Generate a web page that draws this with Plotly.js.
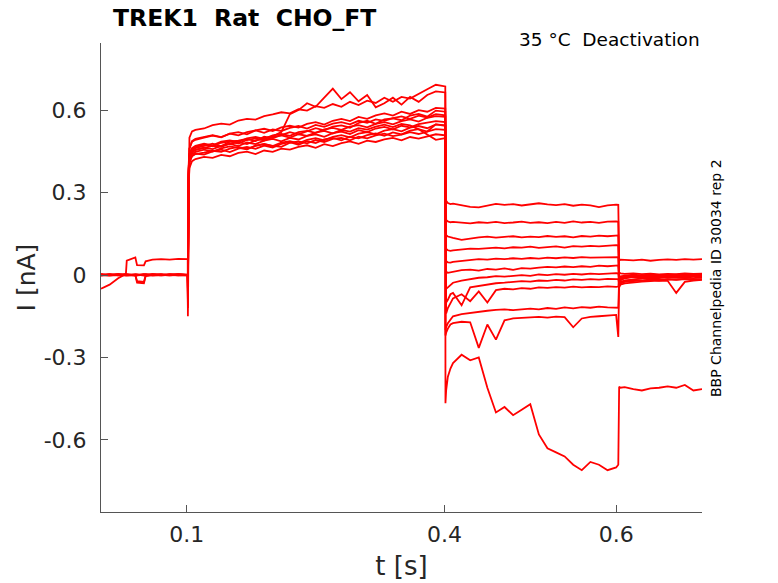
<!DOCTYPE html>
<html>
<head>
<meta charset="utf-8">
<script src="https://cdn.plot.ly/plotly-3.0.1.min.js"></script>
<style>body{margin:0;background:#fff}</style>
</head>
<body>
<div id="chart" style="width:778px;height:583px"></div>
<script>
// sample times of each protocol phase (s)
const tPre = [0, 0.01, 0.02, 0.029, 0.03, 0.04, 0.042, 0.05, 0.052, 0.06, 0.07, 0.08, 0.09, 0.101];
const tAct = [0.1012, 0.102, 0.103, 0.106, 0.11, 0.12, 0.13, 0.14, 0.15, 0.16, 0.17, 0.18, 0.19, 0.2, 0.21, 0.22, 0.23, 0.24, 0.25, 0.26, 0.27, 0.28, 0.29, 0.3, 0.31, 0.32, 0.33, 0.34, 0.35, 0.36, 0.37, 0.38, 0.39, 0.401];
const tDeact = [0.4012, 0.402, 0.404, 0.407, 0.41, 0.42, 0.43, 0.44, 0.45, 0.46, 0.47, 0.48, 0.49, 0.5, 0.51, 0.52, 0.53, 0.54, 0.55, 0.56, 0.57, 0.58, 0.59, 0.6, 0.6025];
const tPost = [0.6035, 0.605, 0.61, 0.62, 0.63, 0.64, 0.65, 0.66, 0.67, 0.68, 0.69, 0.7];

// current (nA) of each sweep, phase by phase
const preA = [-0.05, -0.035, -0.012, 0.004, 0.052, 0.064, 0.036, 0.035, 0.05, 0.056, 0.058, 0.056, 0.059, 0.058];
const actA = [-0.15, 0.40, 0.50, 0.522, 0.528, 0.533, 0.545, 0.551, 0.547, 0.562, 0.568, 0.565, 0.578, 0.584, 0.592, 0.588, 0.603, 0.598, 0.614, 0.608, 0.622, 0.612, 0.63, 0.618, 0.634, 0.626, 0.645, 0.63, 0.648, 0.642, 0.66, 0.676, 0.692, 0.686];
const deactA = [0.30, 0.27, 0.262, 0.258, 0.26, 0.253, 0.248, 0.246, 0.252, 0.259, 0.255, 0.258, 0.253, 0.257, 0.261, 0.257, 0.254, 0.258, 0.252, 0.256, 0.253, 0.247, 0.253, 0.256, 0.255];
const postA = [0.052, 0.056, 0.055, 0.053, 0.056, 0.052, 0.055, 0.057, 0.055, 0.058, 0.056, 0.058];

const preB = [0.002, 0.0, 0.003, 0.001, 0.002, 0.0, -0.028, -0.03, -0.004, 0.001, 0.003, 0.0, 0.002, 0.001];
const actB = [-0.1, 0.36, 0.42, 0.448, 0.455, 0.462, 0.47, 0.466, 0.478, 0.483, 0.476, 0.49, 0.495, 0.505, 0.52, 0.585, 0.6, 0.625, 0.612, 0.645, 0.678, 0.64, 0.665, 0.632, 0.655, 0.61, 0.625, 0.645, 0.62, 0.648, 0.63, 0.655, 0.668, 0.664];
const deactB = [0.22, 0.2, 0.195, 0.192, 0.193, 0.19, 0.188, 0.192, 0.19, 0.193, 0.189, 0.191, 0.194, 0.19, 0.192, 0.189, 0.193, 0.19, 0.195, 0.191, 0.193, 0.19, 0.194, 0.195, 0.194];
const postB = [0.01, 0.006, 0.004, 0.006, 0.003, 0.005, 0.002, 0.004, 0.003, 0.006, 0.004, 0.005];

const preC = [0.0, 0.003, -0.001, 0.002, 0.0, 0.002, 0.001, -0.002, 0.001, 0.003, 0.0, 0.002, -0.001, 0.0];
const actC = [-0.06, 0.38, 0.44, 0.462, 0.47, 0.478, 0.472, 0.485, 0.49, 0.484, 0.497, 0.502, 0.495, 0.508, 0.513, 0.506, 0.52, 0.524, 0.517, 0.53, 0.535, 0.528, 0.54, 0.545, 0.537, 0.55, 0.556, 0.548, 0.56, 0.566, 0.558, 0.572, 0.578, 0.575];
const deactC = [0.16, 0.145, 0.14, 0.137, 0.135, 0.128, 0.133, 0.137, 0.14, 0.136, 0.139, 0.141, 0.137, 0.14, 0.138, 0.142, 0.139, 0.141, 0.137, 0.142, 0.14, 0.143, 0.141, 0.145, 0.144];
const postC = [-0.01, -0.005, -0.002, 0.001, -0.001, 0.002, 0.0, -0.002, 0.001, 0.0, 0.002, 0.001];

const preD = [-0.002, 0.001, 0.002, -0.001, 0.001, 0.0, -0.022, -0.025, 0.0, 0.002, -0.001, 0.001, 0.003, 0.001];
const actD = [-0.08, 0.35, 0.41, 0.432, 0.44, 0.445, 0.452, 0.448, 0.46, 0.466, 0.458, 0.47, 0.476, 0.469, 0.482, 0.487, 0.479, 0.492, 0.498, 0.49, 0.503, 0.509, 0.501, 0.514, 0.52, 0.512, 0.525, 0.531, 0.523, 0.536, 0.542, 0.534, 0.548, 0.545];
const deactD = [0.11, 0.095, 0.09, 0.088, 0.09, 0.093, 0.096, 0.095, 0.098, 0.1, 0.097, 0.101, 0.1, 0.103, 0.099, 0.102, 0.104, 0.1, 0.105, 0.103, 0.106, 0.104, 0.107, 0.109, 0.108];
const postD = [-0.03, -0.02, -0.012, -0.008, -0.01, -0.006, -0.008, -0.005, -0.007, -0.004, -0.006, -0.005];

const preE = [0.001, -0.002, 0.0, 0.002, -0.001, 0.001, 0.0, 0.002, -0.002, 0.0, 0.001, -0.001, 0.002, 0.0];
const actE = [-0.05, 0.37, 0.43, 0.452, 0.462, 0.47, 0.478, 0.468, 0.485, 0.489, 0.495, 0.487, 0.503, 0.498, 0.51, 0.52, 0.512, 0.524, 0.534, 0.526, 0.54, 0.544, 0.536, 0.553, 0.561, 0.55, 0.566, 0.57, 0.563, 0.58, 0.586, 0.576, 0.598, 0.594];
const deactE = [0.07, 0.05, 0.046, 0.045, 0.048, 0.052, 0.055, 0.058, 0.056, 0.06, 0.058, 0.061, 0.059, 0.062, 0.06, 0.063, 0.061, 0.064, 0.062, 0.065, 0.063, 0.064, 0.066, 0.066, 0.065];
const postE = [-0.04, -0.03, -0.02, -0.015, -0.012, -0.01, -0.011, -0.008, -0.01, -0.009, -0.011, -0.008];

const preF = [0.002, 0.0, 0.001, -0.002, 0.0, 0.002, 0.001, 0.0, 0.002, -0.001, 0.0, 0.002, 0.0, 0.001];
const actF = [-0.04, 0.36, 0.42, 0.44, 0.448, 0.456, 0.449, 0.461, 0.468, 0.462, 0.457, 0.471, 0.477, 0.47, 0.466, 0.481, 0.486, 0.479, 0.491, 0.484, 0.495, 0.499, 0.49, 0.503, 0.497, 0.508, 0.514, 0.505, 0.511, 0.52, 0.513, 0.522, 0.531, 0.528];
const deactF = [0.03, 0.012, 0.008, 0.01, 0.012, 0.018, 0.02, 0.016, 0.022, 0.02, 0.024, 0.019, 0.025, 0.023, 0.027, 0.03, 0.028, 0.031, 0.029, 0.032, 0.03, 0.034, 0.032, 0.036, 0.035];
const postF = [-0.02, -0.015, -0.01, -0.005, -0.008, -0.004, -0.006, -0.003, -0.005, -0.002, -0.004, -0.003];

const preG = [-0.001, 0.002, 0.0, 0.001, 0.003, 0.0, -0.001, 0.001, 0.0, 0.002, 0.001, -0.001, 0.001, 0.002];
const actG = [-0.07, 0.39, 0.46, 0.487, 0.495, 0.501, 0.509, 0.502, 0.514, 0.508, 0.52, 0.526, 0.517, 0.53, 0.524, 0.535, 0.542, 0.533, 0.546, 0.539, 0.551, 0.556, 0.548, 0.561, 0.554, 0.566, 0.561, 0.571, 0.577, 0.568, 0.58, 0.573, 0.585, 0.581];
const deactG = [-0.03, -0.05, -0.045, -0.035, -0.028, -0.02, -0.015, -0.01, -0.008, -0.004, -0.006, -0.002, 0.0, -0.003, 0.002, 0.0, 0.003, 0.001, 0.004, 0.002, 0.005, 0.003, 0.006, 0.007, 0.006];
const postG = [-0.035, -0.03, -0.025, -0.022, -0.02, -0.018, -0.02, -0.016, -0.018, -0.015, -0.017, -0.016];

const preH = [0.0, 0.001, -0.001, 0.002, 0.0, -0.002, 0.0, 0.001, 0.002, 0.0, -0.001, 0.001, 0.0, -0.001];
const actH = [-0.12, 0.33, 0.39, 0.414, 0.422, 0.43, 0.426, 0.437, 0.432, 0.444, 0.449, 0.44, 0.453, 0.448, 0.46, 0.456, 0.466, 0.472, 0.463, 0.476, 0.469, 0.48, 0.486, 0.477, 0.489, 0.484, 0.493, 0.499, 0.49, 0.502, 0.496, 0.505, 0.512, 0.508];
const deactH = [-0.08, -0.1, -0.09, -0.07, -0.065, -0.11, -0.045, -0.04, -0.035, -0.03, -0.028, -0.025, -0.022, -0.024, -0.02, -0.021, -0.018, -0.02, -0.016, -0.018, -0.015, -0.017, -0.014, -0.015, -0.015];
const postH = [-0.045, -0.035, -0.03, -0.026, -0.024, -0.022, -0.02, -0.021, -0.065, -0.025, -0.02, -0.018];

const preI = [0.001, 0.0, 0.002, 0.0, -0.001, 0.001, 0.002, 0.0, -0.001, 0.001, 0.002, 0.0, 0.001, 0.0];
const actI = [-0.09, 0.37, 0.43, 0.447, 0.455, 0.463, 0.458, 0.47, 0.477, 0.469, 0.482, 0.476, 0.489, 0.495, 0.486, 0.499, 0.493, 0.506, 0.512, 0.503, 0.516, 0.522, 0.513, 0.527, 0.52, 0.533, 0.539, 0.53, 0.543, 0.537, 0.549, 0.555, 0.56, 0.556];
const deactI = [-0.2, -0.19, -0.175, -0.16, -0.15, -0.142, -0.138, -0.132, -0.13, -0.127, -0.125, -0.128, -0.124, -0.122, -0.125, -0.12, -0.123, -0.118, -0.121, -0.117, -0.119, -0.115, -0.118, -0.12, -0.119];
const postI = [-0.015, -0.01, -0.006, -0.002, -0.004, 0.0, -0.002, 0.001, -0.001, 0.002, 0.0, 0.001];

const preJ = [0.002, 0.001, 0.0, 0.002, 0.001, 0.0, -0.001, 0.002, 0.0, 0.001, 0.0, 0.002, 0.001, 0.0];
const actJ = [-0.05, 0.38, 0.44, 0.458, 0.466, 0.474, 0.468, 0.481, 0.486, 0.478, 0.491, 0.497, 0.489, 0.502, 0.508, 0.5, 0.512, 0.506, 0.518, 0.524, 0.515, 0.528, 0.522, 0.534, 0.529, 0.54, 0.547, 0.538, 0.55, 0.544, 0.53, 0.51, 0.492, 0.498];
const deactJ = [-0.22, -0.21, -0.195, -0.18, -0.175, -0.17, -0.172, -0.265, -0.18, -0.235, -0.165, -0.158, -0.156, -0.154, -0.152, -0.155, -0.151, -0.153, -0.19, -0.158, -0.152, -0.15, -0.148, -0.145, -0.225];
const postJ = [-0.03, -0.025, -0.02, -0.018, -0.02, -0.016, -0.018, -0.015, -0.017, -0.014, -0.016, -0.015];

const preK = [0.0, 0.002, 0.001, -0.001, 0.0, 0.001, 0.0, 0.002, 0.001, -0.001, 0.0, 0.001, 0.002, 0.0];
const actK = [-0.11, 0.34, 0.41, 0.434, 0.442, 0.438, 0.45, 0.456, 0.447, 0.46, 0.466, 0.459, 0.471, 0.464, 0.477, 0.483, 0.474, 0.487, 0.48, 0.493, 0.499, 0.49, 0.503, 0.497, 0.509, 0.515, 0.506, 0.519, 0.512, 0.525, 0.531, 0.522, 0.548, 0.543];
const deactK = [-0.466, -0.42, -0.37, -0.34, -0.32, -0.29, -0.31, -0.30, -0.41, -0.50, -0.48, -0.51, -0.49, -0.47, -0.58, -0.63, -0.645, -0.66, -0.69, -0.71, -0.68, -0.69, -0.71, -0.70, -0.69];
const postK = [-0.406, -0.41, -0.408, -0.415, -0.42, -0.412, -0.41, -0.405, -0.41, -0.4, -0.42, -0.415];

const preL = [0.001, -0.001, 0.002, 0.0, 0.001, -0.001, 0.0, 0.001, 0.002, 0.0, 0.001, 0.0, -0.001, 0.001];
const actL = [-0.03, 0.39, 0.46, 0.485, 0.492, 0.5, 0.507, 0.501, 0.514, 0.52, 0.512, 0.526, 0.532, 0.524, 0.537, 0.543, 0.536, 0.55, 0.556, 0.547, 0.561, 0.568, 0.56, 0.575, 0.568, 0.581, 0.588, 0.58, 0.594, 0.586, 0.6, 0.594, 0.608, 0.605];
const deactL = [-0.12, -0.14, -0.12, -0.1, -0.085, -0.07, -0.095, -0.06, -0.1, -0.055, -0.05, -0.052, -0.048, -0.05, -0.045, -0.047, -0.044, -0.046, -0.042, -0.045, -0.043, -0.044, -0.041, -0.043, -0.042];
const postL = [-0.02, -0.012, -0.008, -0.004, -0.006, -0.003, -0.005, -0.002, -0.004, -0.001, -0.003, -0.002];

const sweeps = [
    [preA, actA, deactA, postA], [preB, actB, deactB, postB], [preC, actC, deactC, postC],
    [preD, actD, deactD, postD], [preE, actE, deactE, postE], [preF, actF, deactF, postF],
    [preG, actG, deactG, postG], [preH, actH, deactH, postH], [preI, actI, deactI, postI],
    [preJ, actJ, deactJ, postJ], [preK, actK, deactK, postK], [preL, actL, deactL, postL]
];

const tAll = [...tPre, ...tAct, ...tDeact, ...tPost];
const data = sweeps.map(s => ({
    type: 'scatter',
    mode: 'lines',
    x: tAll,
    y: [...s[0], ...s[1], ...s[2], ...s[3]],
    line: { color: '#ff0000', width: 1.8 },
    hoverinfo: 'skip',
    showlegend: false
}));

const axisFont = { family: 'DejaVu Sans', size: 22, color: '#262626' };
const nb = '\u00A0';

const layout = {
    width: 778,
    height: 583,
    margin: { l: 101, r: 76, t: 43, b: 71 },
    paper_bgcolor: '#ffffff',
    plot_bgcolor: '#ffffff',
    showlegend: false,
    title: {
        text: '<b>TREK1' + nb + nb + 'Rat' + nb + nb + 'CHO_FT</b>',
        font: { family: 'DejaVu Sans', size: 23.5, color: '#000000' },
        x: 113 / 778, xanchor: 'left', xref: 'container',
        y: 1 - 18 / 583, yanchor: 'middle', yref: 'container'
    },
    xaxis: {
        range: [0, 0.7],
        tickvals: [0.1, 0.4, 0.6],
        ticktext: ['0.1', '0.4', '0.6'],
        ticks: 'inside', ticklen: 7, tickcolor: '#555555',
        showline: true, linecolor: '#555555', linewidth: 1,
        showgrid: false, zeroline: false,
        tickfont: axisFont,
        ticklabelstandoff: 3,
        title: { text: 't [s]', font: { family: 'DejaVu Sans', size: 26, color: '#262626' }, standoff: 10 }
    },
    yaxis: {
        range: [-0.862, 0.844],
        tickvals: [-0.6, -0.3, 0, 0.3, 0.6],
        ticktext: ['-0.6', '-0.3', '0', '0.3', '0.6'],
        ticks: 'inside', ticklen: 7, tickcolor: '#555555',
        showline: true, linecolor: '#555555', linewidth: 1,
        showgrid: false, zeroline: false,
        tickfont: axisFont,
        ticklabelstandoff: 9,
        title: { text: 'I [nA]', font: { family: 'DejaVu Sans', size: 25, color: '#262626' }, standoff: 0 }
    },
    annotations: [
        {
            text: '35 °C' + nb + nb + 'Deactivation',
            xref: 'paper', yref: 'paper', x: 1, y: (512 - 40) / 469,
            xanchor: 'right', yanchor: 'middle', showarrow: false,
            font: { family: 'DejaVu Sans', size: 18.5, color: '#000000' }
        },
        {
            text: 'BBP Channelpedia ID 30034 rep 2',
            xref: 'paper', yref: 'paper', x: (716 - 101) / 601, y: (512 - 278) / 469,
            xanchor: 'center', yanchor: 'middle', showarrow: false, textangle: -90,
            font: { family: 'DejaVu Sans', size: 14, color: '#000000' }
        }
    ]
};

Plotly.newPlot('chart', data, layout, { displayModeBar: false, staticPlot: true });
</script>
</body>
</html>
